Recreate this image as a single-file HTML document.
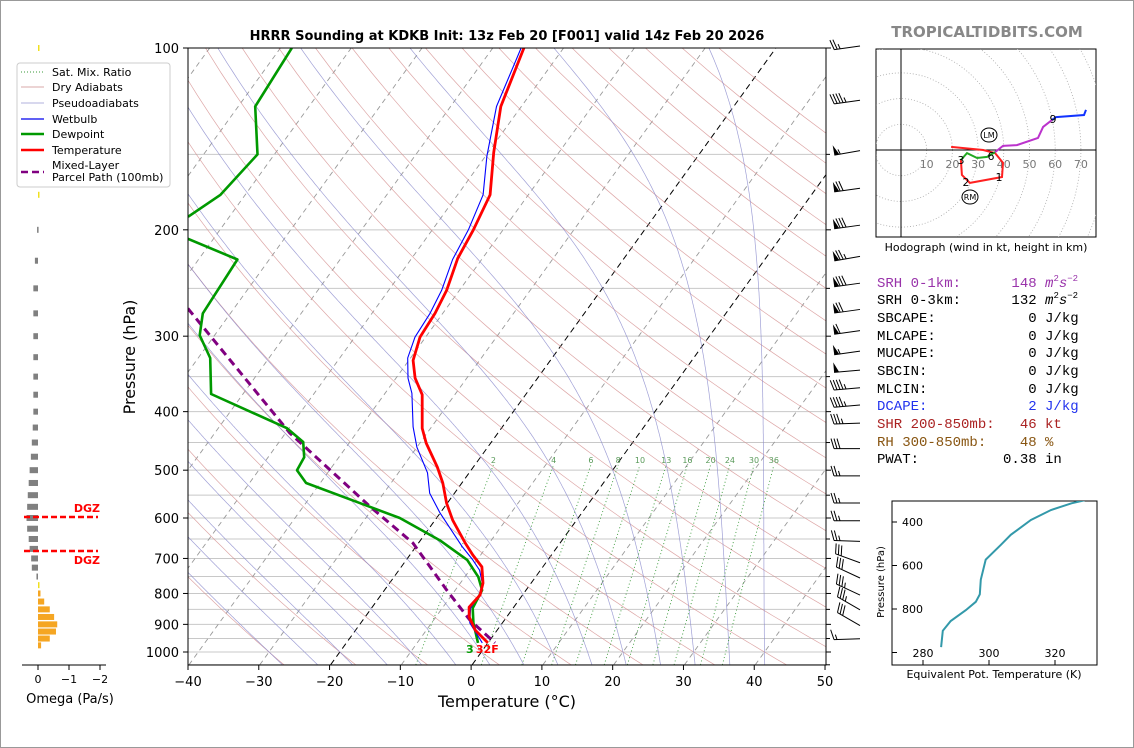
<!DOCTYPE html>
<html><head><meta charset="utf-8"><style>
html,body{margin:0;padding:0;background:#fff;}
svg{display:block;font-family:"DejaVu Sans","Liberation Sans",sans-serif;}
</style></head><body>
<svg id="chart" width="1134" height="748" viewBox="0 0 1134 748" xmlns="http://www.w3.org/2000/svg">
<rect x="0.5" y="0.5" width="1133" height="747" fill="#fff" stroke="#999"/>
<defs><clipPath id="plotclip"><rect x="188" y="48" width="638" height="617"/></clipPath>
<clipPath id="hodoclip"><rect x="876" y="49" width="220" height="188"/></clipPath>
<clipPath id="thclip"><rect x="892" y="501" width="205" height="164"/></clipPath></defs>
<text x="507" y="40" text-anchor="middle" font-size="13" font-weight="bold">HRRR Sounding at KDKB Init: 13z Feb 20 [F001] valid 14z Feb 20 2026</text>
<text x="987" y="37" text-anchor="middle" font-size="15" font-weight="bold" fill="#888">TROPICALTIDBITS.COM</text>
<g id="bg" clip-path="url(#plotclip)"></g>
<g id="series" clip-path="url(#plotclip)"></g>
<rect x="188" y="48" width="638" height="617" fill="none" stroke="#000" stroke-width="1"/>
<g id="axes"></g>
<text x="507" y="707" text-anchor="middle" font-size="16">Temperature (°C)</text>
<text transform="translate(135,357) rotate(-90)" text-anchor="middle" font-size="16">Pressure (hPa)</text>
<g id="barbs"></g>
<g id="omega"></g>
<g>
<rect x="17" y="63" width="153" height="124" rx="3" fill="#fff" stroke="#ccc"/>
<g font-size="11">
<line x1="21" y1="72" x2="44" y2="72" stroke="#3a9a3a" stroke-dasharray="1,2"/><text x="52" y="76">Sat. Mix. Ratio</text>
<line x1="21" y1="87" x2="44" y2="87" stroke="#d8a8a8"/><text x="52" y="91">Dry Adiabats</text>
<line x1="21" y1="103" x2="44" y2="103" stroke="#b0b0dd"/><text x="52" y="107">Pseudoadiabats</text>
<line x1="21" y1="119" x2="44" y2="119" stroke="#0000ee" stroke-width="1.2"/><text x="52" y="123">Wetbulb</text>
<line x1="21" y1="134" x2="44" y2="134" stroke="#009900" stroke-width="2.5"/><text x="52" y="138">Dewpoint</text>
<line x1="21" y1="150" x2="44" y2="150" stroke="#ff0000" stroke-width="2.5"/><text x="52" y="154">Temperature</text>
<line x1="21" y1="172" x2="44" y2="172" stroke="#800080" stroke-width="2.5" stroke-dasharray="7,4"/><text x="52" y="169">Mixed-Layer</text><text x="52" y="181">Parcel Path (100mb)</text>
</g></g>
<g id="hodo"></g>
<text x="986" y="251" text-anchor="middle" font-size="11">Hodograph (wind in kt, height in km)</text>
<g font-family="'Liberation Mono','DejaVu Sans Mono',monospace" font-size="14">
<text x="877" y="287" fill="#9933aa" xml:space="preserve">SRH 0-1km:      148 <tspan font-style="italic">m</tspan><tspan font-size="9" dy="-6">2</tspan><tspan font-style="italic" dy="6">s</tspan><tspan font-size="9" dy="-6">−2</tspan></text>
<text x="877" y="304" xml:space="preserve">SRH 0-3km:      132 <tspan font-style="italic">m</tspan><tspan font-size="9" dy="-6">2</tspan><tspan font-style="italic" dy="6">s</tspan><tspan font-size="9" dy="-6">−2</tspan></text>
<text x="877" y="322" xml:space="preserve">SBCAPE:           0 J/kg</text>
<text x="877" y="340" xml:space="preserve">MLCAPE:           0 J/kg</text>
<text x="877" y="357" xml:space="preserve">MUCAPE:           0 J/kg</text>
<text x="877" y="375" xml:space="preserve">SBCIN:            0 J/kg</text>
<text x="877" y="393" xml:space="preserve">MLCIN:            0 J/kg</text>
<text x="877" y="410" fill="#2233ee" xml:space="preserve">DCAPE:            2 J/kg</text>
<text x="877" y="428" fill="#aa2222" xml:space="preserve">SHR 200-850mb:   46 kt</text>
<text x="877" y="446" fill="#885511" xml:space="preserve">RH 300-850mb:    48 %</text>
<text x="877" y="463" xml:space="preserve">PWAT:          0.38 in</text>
</g>
<g id="theta"></g>
</svg>
<script>
// ---- sounding data (pressure hPa, temperature °C) ----
const tempP = [100,125,149,175,200,223,252,275,301,329,352,375,426,451,494,525,567,605,660,691,723,769,805,843,875,920,966];
const tempT = [-55.6,-52.9,-49.2,-45.4,-44.2,-43.5,-41.8,-41.1,-40.8,-39.4,-37.3,-34.6,-31.2,-29.1,-25.1,-22.7,-20.1,-17.5,-13.4,-11.1,-8.6,-6.8,-6.0,-6.3,-5.3,-3.1,0.0];
const dewP = [100,125,150,175,190,199,207,224,275,299,326,374,426,449,476,500,525,567,600,653,704,751,790,846,895,966];
const dewT = [-88.4,-87.6,-82.4,-83.5,-85.8,-93,-83.6,-74.5,-73.9,-72.1,-68.3,-64.5,-50.3,-46.6,-44.9,-44.6,-42.0,-32.3,-25.2,-17.3,-11.4,-8.1,-6.2,-5.7,-4.1,-1.4];
const wbP = [100,125,151,175,200,224,252,275,301,326,352,373,424,458,505,546,589,670,704,732,769,805,846,895,966];
const wbT = [-56.0,-53.5,-49.8,-46.4,-44.9,-44.1,-42.5,-41.8,-41.5,-40.4,-38.3,-36.2,-32.6,-30.0,-25.9,-23.5,-20.0,-13.4,-10.6,-8.6,-6.9,-6.1,-6.0,-4.6,-0.8];
const parcelP = [270,434,575,660,790,885,966];
const parcelT = [-76.5,-49.4,-30.5,-20.8,-11.2,-4.9,1.0];
const xTicks = [-40,-30,-20,-10,0,10,20,30,40,50];
const pTicks = [100,200,300,400,500,600,700,800,900,1000];
const mixRatios = [2,4,6,8,10,13,16,20,24,30,36];
// wind barbs
const windP = [100,123,149,172,198,223,247,273,296,320,344,368,393,421,464,515,571,611,661,717,760,811,858,911,958];
const windSpd = [25,45,55,70,80,75,80,70,60,55,50,45,45,35,30,25,25,25,25,30,30,35,35,30,15];
const windDir = [262,262,260,262,262,260,262,262,262,262,265,265,265,268,270,270,270,270,272,290,295,295,300,300,268];
// omega (Pa/s)
const omegaP = [100,125,150,175,200,225,250,275,300,325,350,375,400,425,450,475,500,525,550,575,600,625,650,675,700,725,750,775,800,825,850,875,900,925,950,975];
const omegaV = [-0.03,-0.03,-0.03,-0.03,0.03,0.1,0.15,0.15,0.15,0.15,0.15,0.15,0.15,0.17,0.2,0.23,0.27,0.3,0.33,0.35,0.37,0.35,0.3,0.27,0.22,0.2,0.05,-0.04,-0.08,-0.2,-0.38,-0.52,-0.62,-0.58,-0.38,-0.1];
// hodograph (u,v kt)
const hodoRedU = [19.5,32,36.6,39.7,39.3,26.8,23.7,23.3];
const hodoRedV = [1.2,0,-1.2,-5,-10.5,-12.8,-9.7,-3.9];
const hodoGreenU = [23.3,25.7,29.6,33.5,36.6];
const hodoGreenV = [-3.9,-1.2,-3.1,-2.7,-0.8];
const hodoMagU = [36.6,39.7,45.1,53.3,55.3,58.8];
const hodoMagV = [-0.8,1.6,1.9,4.7,9,11.7];
const hodoBlueU = [58.8,60.3,71.2,72];
const hodoBlueV = [11.7,12.8,13.6,15.6];
// theta-e profile
const thetaP = [975,900,855,805,767,733,665,573,505,459,391,345,314,300];
const thetaK = [285.5,286.0,288.4,293.0,296.0,297.2,297.5,299.0,303.6,306.6,312.7,318.8,325.0,329.0];

const NS='http://www.w3.org/2000/svg';
function mk(tag,attrs,parent){const e=document.createElementNS(NS,tag);for(const k in attrs)e.setAttribute(k,attrs[k]);parent.appendChild(e);return e;}
function yP(p){return 48+604*Math.log10(p/100);}
function xT(t,p){return 472+7.078*t+0.722*(665-yP(p));}
function path(ps,ts){let d='';for(let i=0;i<ps.length;i++){d+=(i?'L':'M')+xT(ts[i],ps[i]).toFixed(1)+','+yP(ps[i]).toFixed(1);}return d;}
const bg=document.getElementById('bg'),ser=document.getElementById('series'),ax=document.getElementById('axes');
function es(t){return 6.112*Math.exp(17.67*t/(t+243.5));}
function moist(t,p){const T=t+273.15;const e=es(t);const rs=0.622*e/(p-e);const Lv=2.501e6,Rd=287,Cp=1005;
return (1/p)*(Rd*T+Lv*rs)/(Cp+Lv*Lv*rs*0.622/(Rd*T*T));}
// isobars
for(let p=100;p<=1050;p+=50){const l=mk('line',{x1:188,x2:826,y1:yP(p),y2:yP(p),stroke:'#c8c8c8','stroke-width':1},bg);

}
// isotherms
for(let t=-140;t<=50;t+=10){const blk=(t===0||t===-20);const l=mk('line',{x1:xT(t,1050),y1:yP(1050),x2:xT(t,100),y2:yP(100),stroke:blk?'#000':'#999','stroke-width':blk?1:0.9,'stroke-dasharray':blk?'6,4':'5,4'},bg);

}
// dry adiabats
for(let th=-30;th<=200;th+=10){let d='';for(let p=1050;p>=100;p-=10){const t=(th+273.15)*Math.pow(p/1000,0.2857)-273.15;d+=(p===1050?'M':'L')+xT(t,p).toFixed(1)+','+yP(p).toFixed(1);}
const l=mk('path',{d:d,fill:'none',stroke:'#d49090','stroke-width':0.7,opacity:0.8},bg);

}
// moist adiabats
for(let t0=-30;t0<=40;t0+=5){let d='';const arr=[];
let tb=t0;for(let q=1000;q<1050;q+=2){tb+=moist(tb,q)*2;}
let tt=tb;for(let q=1050;q>=100;q-=2){arr.push([q,tt]);tt-=moist(tt,q)*2;}
arr.forEach((a,i)=>{d+=(i?'L':'M')+xT(a[1],a[0]).toFixed(1)+','+yP(a[0]).toFixed(1);});
const l=mk('path',{d:d,fill:'none',stroke:'#8888cc','stroke-width':0.7,opacity:0.8},bg);

}
// mixing ratio lines
mixRatios.forEach(w=>{let d='';const ps=[1050,490];ps.forEach((p,i)=>{const e=p*w/(622+w);const l=Math.log(e/6.112);const td=243.5*l/(17.67-l);d+=(i?'L':'M')+xT(td,p).toFixed(1)+','+yP(p).toFixed(1);});
const ln=mk('path',{d:d,fill:'none',stroke:'#3a9a3a','stroke-width':0.9,'stroke-dasharray':'1,2.5'},bg);


const e=490*w/(622+w);const l=Math.log(e/6.112);const td=243.5*l/(17.67-l);
const tx=mk('text',{x:xT(td,490),y:yP(490)-2,'font-size':8,fill:'#5a9a5a','text-anchor':'middle'},bg);tx.textContent=w;

});
// series
function series(ps,ts,col,w,dash,name){const l=mk('path',{d:path(ps,ts),fill:'none',stroke:col,'stroke-width':w,'stroke-linejoin':'round'},ser);if(dash)l.setAttribute('stroke-dasharray',dash);

}
series(parcelP,parcelT,'#800080',3,'8,5','parcel-path-line');
series(dewP,dewT,'#009900',2.6,null,'dewpoint-line');
series(wbP,wbT,'#0000ff',1.1,null,'wetbulb-line');
series(tempP,tempT,'#ff0000',2.8,null,'temperature-line');
// surface labels
const sd=mk('text',{x:xT(dewT[dewT.length-1],dewP[dewP.length-1])-12,y:653,'font-size':11,'font-weight':'bold',fill:'#009900'},ax);sd.textContent='3';


const st=mk('text',{x:xT(tempT[tempT.length-1],tempP[tempP.length-1])-12,y:653,'font-size':11,'font-weight':'bold',fill:'#ff0000'},ax);st.textContent='32F';


// axes ticks
xTicks.forEach(t=>{const x=188+(t+40)*7.078;mk('line',{x1:x,x2:x,y1:665,y2:670,stroke:'#000'},ax);
const tx=mk('text',{x:x,y:686,'font-size':13,'text-anchor':'middle'},ax);tx.textContent=t<0?'−'+(-t):t;

});
pTicks.forEach(p=>{const y=yP(p);mk('line',{x1:183,x2:188,y1:y,y2:y,stroke:'#000'},ax);mk('line',{x1:826,x2:831,y1:y,y2:y,stroke:'#000'},ax);
const tx=mk('text',{x:179,y:y+5,'font-size':13,'text-anchor':'end'},ax);tx.textContent=p;

});
for(let p=150;p<=1050;p+=50){if(p%100){const y=yP(p);mk('line',{x1:826,x2:830,y1:y,y2:y,stroke:'#000'},ax);}}
// wind barbs
const bb=document.getElementById('barbs');
windP.forEach((p,i)=>{const y=yP(p);const base=[860,y-2];const a=(windDir[i])*Math.PI/180;
const tx=base[0]+Math.sin(a)*26, ty=base[1]-Math.cos(a)*26;
const g=mk('g',{},bb);


mk('line',{x1:base[0],y1:base[1],x2:tx,y2:ty,stroke:'#000','stroke-width':1},g);
const sx=(base[0]-tx)/26,sy=(base[1]-ty)/26;let px=sy,py=-sx;if(py>0){px=-px;py=-py;}
let s=windSpd[i],pos=0;const bl=10;
while(s>=50){const x0=tx+sx*pos,y0=ty+sy*pos;mk('polygon',{points:`${x0},${y0} ${x0+px*bl},${y0+py*bl} ${x0+sx*5},${y0+sy*5}`,fill:'#000'},g);pos+=6;s-=50;}
while(s>=10){const x0=tx+sx*pos,y0=ty+sy*pos;mk('line',{x1:x0,y1:y0,x2:x0+px*bl-sx*3,y2:y0+py*bl-sy*3,stroke:'#000'},g);pos+=3;s-=10;}
if(s>=5){if(pos===0)pos=3;const x0=tx+sx*pos,y0=ty+sy*pos;mk('line',{x1:x0,y1:y0,x2:x0+px*bl/2-sx*1.5,y2:y0+py*bl/2-sy*1.5,stroke:'#000'},g);}
});
// omega panel
const om=document.getElementById('omega');
omegaP.forEach((p,i)=>{const v=omegaV[i];const y=yP(p)-3;const w=Math.abs(v)*31;const x=v>0?38-w:38;
const col=v>0?'#808080':(Math.abs(v)<0.05?'#f0e020':'#f5a623');
const r=mk('rect',{x:x,y:y,width:Math.max(w,1.5),height:6,fill:col},om);

});
mk('line',{x1:22,x2:106,y1:665,y2:665,stroke:'#000'},om);
[[0,'0'],[-1,'−1'],[-2,'−2']].forEach(o=>{const x=38-o[0]*31;mk('line',{x1:x,x2:x,y1:665,y2:670,stroke:'#000'},om);const t=mk('text',{x:x,y:683,'font-size':11,'text-anchor':'middle'},om);t.textContent=o[1];

});
const ot=mk('text',{x:70,y:703,'font-size':13,'text-anchor':'middle'},om);ot.textContent='Omega (Pa/s)';


[517,551].forEach((y,i)=>{mk('line',{x1:24,x2:98,y1:y,y2:y,stroke:'#ff0000','stroke-width':2.5,'stroke-dasharray':'6,3'},om);
const t=mk('text',{x:100,y:i?564:512,'font-size':11,'font-weight':'bold',fill:'#ff0000','text-anchor':'end'},om);t.textContent='DGZ';

});
// hodograph
const hd=document.getElementById('hodo');
const ox=901,oy=150,ks=2.57;
mk('rect',{x:876,y:49,width:220,height:188,fill:'#fff',stroke:'#000'},hd);
const hg=mk('g',{'clip-path':'url(#hodoclip)'},hd);
for(let r=10;r<=90;r+=10)mk('circle',{cx:ox,cy:oy,r:r*ks,fill:'none',stroke:'#aaa','stroke-width':0.8,'stroke-dasharray':'1,2'},hg);
mk('line',{x1:876,x2:1096,y1:oy,y2:oy,stroke:'#000'},hg);mk('line',{x1:ox,x2:ox,y1:49,y2:237,stroke:'#000'},hg);
for(let r=10;r<=70;r+=10){const t=mk('text',{x:ox+r*ks,y:oy+18,'font-size':11,fill:'#777','text-anchor':'middle'},hg);t.textContent=r;

}
function hline(us,vs,col,name){let d='';us.forEach((u,i)=>{d+=(i?'L':'M')+(ox+u*ks).toFixed(1)+','+(oy-vs[i]*ks).toFixed(1);});const l=mk('path',{d:d,fill:'none',stroke:col,'stroke-width':2},hg);

}
hline(hodoRedU,hodoRedV,'#ff2020','hodo-0-3km');hline(hodoGreenU,hodoGreenV,'#22aa22','hodo-3-6km');hline(hodoMagU,hodoMagV,'#bb33cc','hodo-6-9km');hline(hodoBlueU,hodoBlueV,'#1133ff','hodo-9km-plus');
[[999,181,'1'],[966,186,'2'],[961,164,'3'],[991,160,'6'],[1053,123,'9']].forEach(a=>{const t=mk('text',{x:a[0],y:a[1],'font-size':11,'text-anchor':'middle'},hg);t.textContent=a[2];

});
[[989,135,'LM'],[970,197,'RM']].forEach(a=>{mk('ellipse',{cx:a[0],cy:a[1],rx:8,ry:7,fill:'#fff',stroke:'#000'},hg);const t=mk('text',{x:a[0],y:a[1]+3,'font-size':8,'text-anchor':'middle'},hg);t.textContent=a[2];

});
// theta-e panel
const th=document.getElementById('theta');
mk('rect',{x:892,y:501,width:205,height:164,fill:'#fff',stroke:'#000'},th);
function thx(k){return 923+(k-280)*3.3;} function thy(p){return 522+(p-400)*0.2175;}
let thd='';thetaP.forEach((p,i)=>{thd+=(i?'L':'M')+thx(thetaK[i]).toFixed(1)+','+thy(p).toFixed(1);});
const tl=mk('path',{d:thd,fill:'none',stroke:'#3399aa','stroke-width':2,'clip-path':'url(#thclip)'},th);


[400,600,800,1000].forEach(p=>{mk('line',{x1:892,x2:897,y1:thy(p),y2:thy(p),stroke:'#000'},th);if(p<1000){const t=mk('text',{x:902,y:thy(p)+4,'font-size':11,'text-anchor':'start'},th);t.textContent=p;

}});
[280,300,320].forEach(k=>{mk('line',{x1:thx(k),x2:thx(k),y1:660,y2:665,stroke:'#000'},th);const t=mk('text',{x:thx(k),y:657,'font-size':11,'text-anchor':'middle'},th);t.textContent=k;

});
const tt1=mk('text',{x:994,y:678,'font-size':11,'text-anchor':'middle'},th);tt1.textContent='Equivalent Pot. Temperature (K)';


const tt2=mk('text',{transform:'translate(884,582) rotate(-90)','font-size':10,'text-anchor':'middle'},th);tt2.textContent='Pressure (hPa)';


</script>
</body></html>
